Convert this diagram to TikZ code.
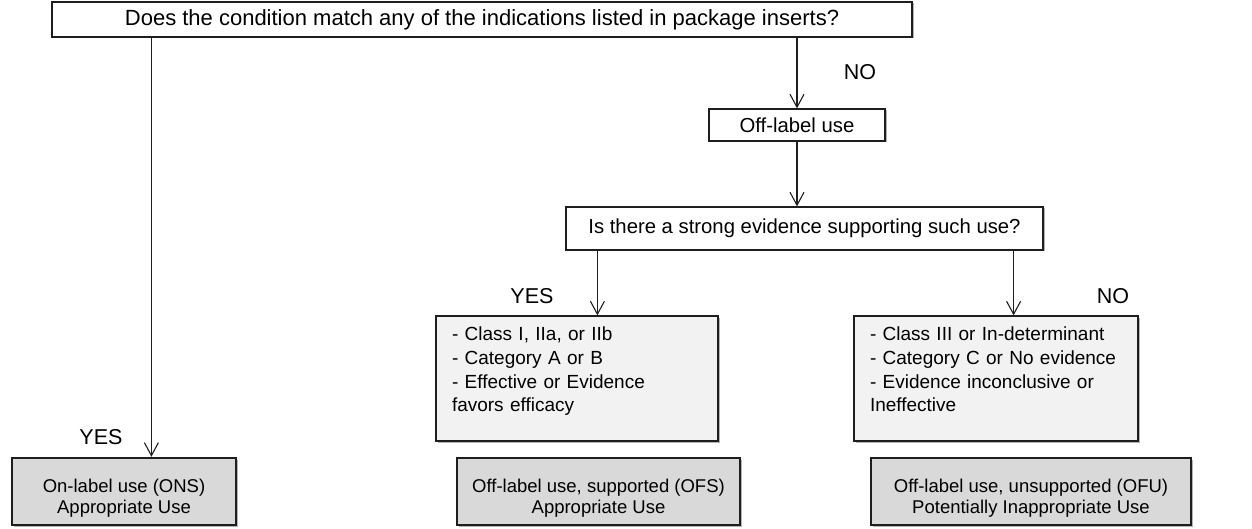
\documentclass[tikz,border=0pt]{standalone}
\usepackage{fontspec}
\setmainfont{Liberation Sans}
\usetikzlibrary{arrows.meta,shadows,calc}

\definecolor{ink}{HTML}{1E1E1E}
\definecolor{paleBox}{HTML}{F2F2F2}
\definecolor{greyBox}{HTML}{D9D9D9}
\definecolor{shade}{HTML}{B4B4B4}

% strut that pushes the two-line captions of the outcome boxes downwards
\newcommand{\dropstrut}{\rule{0pt}{27.5pt}}
% strut that lifts the evidence lists towards the top of their boxes
\newcommand{\liftstrut}{\rule[-18pt]{0pt}{18pt}}

\begin{document}
\begin{tikzpicture}[x=1pt,y=-1pt,
  every node/.style={font=\fontsize{20.3}{24}\selectfont, text=black},
  boxbase/.style={rectangle, draw=ink, line width=1.2pt, inner sep=0pt,
    drop shadow={shadow xshift=1.5pt, shadow yshift=-1.5pt, fill=shade, opacity=1}},
  plainbox/.style={boxbase, fill=white},
  listbox/.style={boxbase, fill=paleBox, align=left, inner xsep=16pt,
    font=\fontsize{19}{23.7}\selectfont},
  resultbox/.style={boxbase, fill=greyBox, line width=2.4pt, align=center,
    font=\fontsize{18.5}{21}\selectfont},
  answer/.style={inner sep=0pt, font=\fontsize{21.5}{24}\selectfont},
  arr/.style={draw=ink, line width=1.1pt, -{Straight Barb[length=13pt,width=14pt]}}
]
\useasboundingbox (0,0) rectangle (1252,529);

% question boxes
\node[plainbox, minimum width=860, minimum height=35,
  font=\fontsize{22}{26}\selectfont] (top) at (482,19.5)
  {Does the condition match any of the indications listed in package inserts?};
\node[plainbox, minimum width=176, minimum height=32] (offl) at (797,125)
  {Off-label use};
\node[plainbox, minimum width=477, minimum height=43] (q) at (804.5,228.5)
  {Is there a strong evidence supporting such use?};

% evidence lists
\node[listbox, text width=250, minimum height=125] (ml) at (577,378.5)
  {- Class I, IIa, or IIb\\- Category A or B\\- Effective or Evidence\\favors efficacy\liftstrut};
\node[listbox, text width=252, minimum height=125] (mr) at (996,378.5)
  {- Class III or In-determinant\\- Category C or No evidence\\- Evidence inconclusive or\\Ineffective\liftstrut};

% outcome boxes
\node[resultbox, minimum width=224, minimum height=67] (onl) at (124,491.5)
  {\dropstrut On-label use (ONS)\\Appropriate Use};
\node[resultbox, minimum width=283, minimum height=67] (ofs) at (598.5,491.5)
  {\dropstrut Off-label use, supported (OFS)\\Appropriate Use};
\node[resultbox, minimum width=320, minimum height=67] (ofu) at (1031,491.5)
  {\dropstrut Off-label use, unsupported (OFU)\\Potentially Inappropriate Use};

% connectors
\coordinate (yesStart) at ([xshift=100pt]top.south west);
\draw[arr] (yesStart) -- (yesStart |- onl.north);
\draw[arr] (top.south -| offl.north) -- (offl.north);
\draw[arr] (offl.south) -- (q.north -| offl.south);
\coordinate (qLeft) at ([xshift=32pt]q.south west);
\coordinate (qRight) at ([xshift=-30pt]q.south east);
\draw[arr] (qLeft) -- (qLeft |- ml.north);
\draw[arr] (qRight) -- (qRight |- mr.north);

% branch labels
\node[answer] (noTop) at (860,72) {NO};
\node[answer] (yesLeft) at (101,437) {YES};
\node[answer] (yesMid) at (532,296) {YES};
\node[answer] (noMid) at (1113,296) {NO};
\end{tikzpicture}
\end{document}
